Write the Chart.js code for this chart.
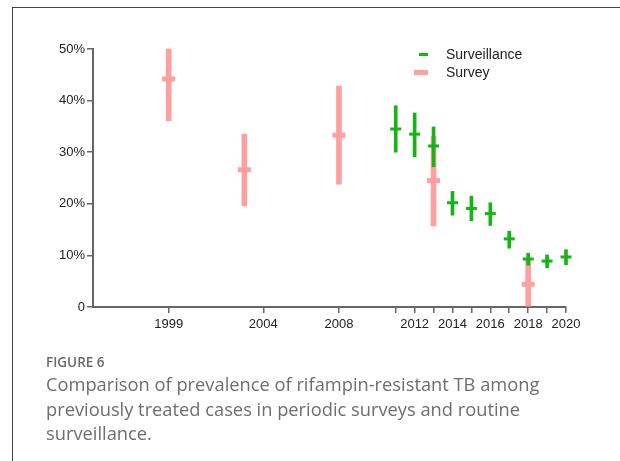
<!DOCTYPE html>
<html>
<head>
<meta charset="utf-8">
<script src="https://cdn.jsdelivr.net/npm/chart.js@4/dist/chart.umd.min.js"></script>
<style>
	body { margin: 0; background: #fff; }
	#wrap { position: relative; width: 620px; height: 461px; overflow: hidden; }
	#frame { position: absolute; left: 12px; top: 7px; width: 620px; height: 470px; border-top: 1px solid #444; border-left: 1px solid #444; }
	canvas { position: absolute; left: 0; top: 0; }
	.leg { position: absolute; left: 446px; font: 14px "Liberation Sans", Arial, sans-serif; color: #222; }
	.sw { position: absolute; }
	#fig { position: absolute; left: 46px; top: 353px; font: 600 13.5px "Open Sans", sans-serif; color: #6a6a6a; }
	#cap { position: absolute; left: 46px; top: 372px; width: 570px; font: 18.3px/24.5px "Open Sans", sans-serif; color: #6e6e6e; }
</style>
</head>
<body>
<div id="wrap">
	<div id="frame"></div>
	<canvas id="graph" width="620" height="461"></canvas>
	<div class="sw" style="left:419px;top:53px;width:9px;height:3px;background:#16b416"></div>
	<div class="leg" style="top:46px">Surveillance</div>
	<div class="sw" style="left:414px;top:70px;width:14px;height:5px;background:#ffa0a0"></div>
	<div class="leg" style="top:64px">Survey</div>
	<div id="fig">FIGURE 6</div>
	<div id="cap">Comparison of prevalence of rifampin-resistant TB among<br>previously treated cases in periodic surveys and routine<br>surveillance.</div>
</div>
<script>
// Dati (percentuali)
const surveyYears = [1999, 2003, 2008, 2013, 2018];
const surveyValue = [44.2, 26.6, 33.3, 24.5, 4.4];
const surveyLow = [36.1, 19.6, 23.8, 15.7, 0];
const surveyHigh = [50.0, 33.5, 42.8, 33.1, 9.1];

const survYears = [2011, 2012, 2013, 2014, 2015, 2016, 2017, 2018, 2019, 2020];
const survValue = [34.5, 33.5, 31.2, 20.2, 19.1, 18.1, 13.2, 9.3, 8.9, 9.7];
const survLow = [30.0, 29.1, 27.2, 17.8, 16.7, 15.8, 11.4, 8.1, 7.6, 8.2];
const survHigh = [39.0, 37.6, 34.9, 22.4, 21.5, 20.2, 14.7, 10.4, 10.1, 11.1];

const xTickValues = [1999, 2004, 2008, 2011, 2012, 2013, 2014, 2015, 2016, 2017, 2018, 2019, 2020];
const xTickLabels = ['1999', '2004', '2008', '', '2012', '', '2014', '', '2016', '', '2018', '', '2020'];
const yTickValues = [0, 10, 20, 30, 40, 50];
const yTickLabels = ['0', '10%', '20%', '30%', '40%', '50%'];

const pink = '#ffa0a0';
const green = '#16b416';
const axisGrey = '#666';
const tickFont = { family: '"Liberation Sans", Arial, sans-serif', size: 13 };

function ranges(years, lo, hi) {
	return years.map((y, i) => ({ x: y, y: [lo[i], hi[i]] }));
}
function points(years, v) {
	return years.map((y, i) => ({ x: y, y: v[i] }));
}

let config = {
	type: 'bar',
	data: {
		datasets: [
			{
				type: 'bar', label: 'Survey',
				data: ranges(surveyYears, surveyLow, surveyHigh),
				backgroundColor: pink, barThickness: 5, grouped: false, order: 4, clip: false
			},
			{
				type: 'scatter', label: 'Survey mid',
				data: points(surveyYears, surveyValue),
				pointStyle: 'line', radius: 6.5, borderWidth: 5, borderColor: pink, order: 3, clip: false
			},
			{
				type: 'bar', label: 'Surveillance',
				data: ranges(survYears, survLow, survHigh),
				backgroundColor: green, barThickness: 3, grouped: false, order: 2, clip: false
			},
			{
				type: 'scatter', label: 'Surveillance mid',
				data: points(survYears, survValue),
				pointStyle: 'line', radius: 5.5, borderWidth: 3, borderColor: green, order: 1, clip: false
			}
		]
	},
	options: {
		responsive: false,
		animation: false,
		devicePixelRatio: 1,
		layout: { padding: { left: 0, top: 49, right: 54, bottom: 124 } },
		plugins: { legend: { display: false }, tooltip: { enabled: false } },
		scales: {
			x: {
				type: 'linear', min: 1995, max: 2020, offset: false,
				afterFit: function(scale) { scale.height = 30; },
				afterBuildTicks: function(scale) { scale.ticks = xTickValues.map(v => ({ value: v })); },
				grid: { display: true, offset: false, drawOnChartArea: false, drawTicks: true, tickLength: 6, color: axisGrey, lineWidth: 1.5 },
				border: { display: true, color: axisGrey, width: 2 },
				ticks: {
					autoSkip: false, maxRotation: 0, padding: 4, color: '#222', font: tickFont,
					callback: function(value) {
						let i = xTickValues.indexOf(value);
						return i >= 0 ? xTickLabels[i] : '';
					}
				}
			},
			y: {
				min: 0, max: 50,
				afterFit: function(scale) { scale.width = 93; },
				afterBuildTicks: function(scale) { scale.ticks = yTickValues.map(v => ({ value: v })); },
				grid: { display: true, drawOnChartArea: false, drawTicks: true, tickLength: 6, color: axisGrey, lineWidth: 1.5 },
				border: { display: true, color: axisGrey, width: 2 },
				ticks: {
					padding: 2, color: '#222', font: tickFont,
					callback: function(value) {
						let i = yTickValues.indexOf(value);
						return i >= 0 ? yTickLabels[i] : '';
					}
				}
			}
		}
	}
};

var ctx = document.getElementById('graph').getContext('2d');
window.myChart = new Chart(ctx, config);
</script>
</body>
</html>
